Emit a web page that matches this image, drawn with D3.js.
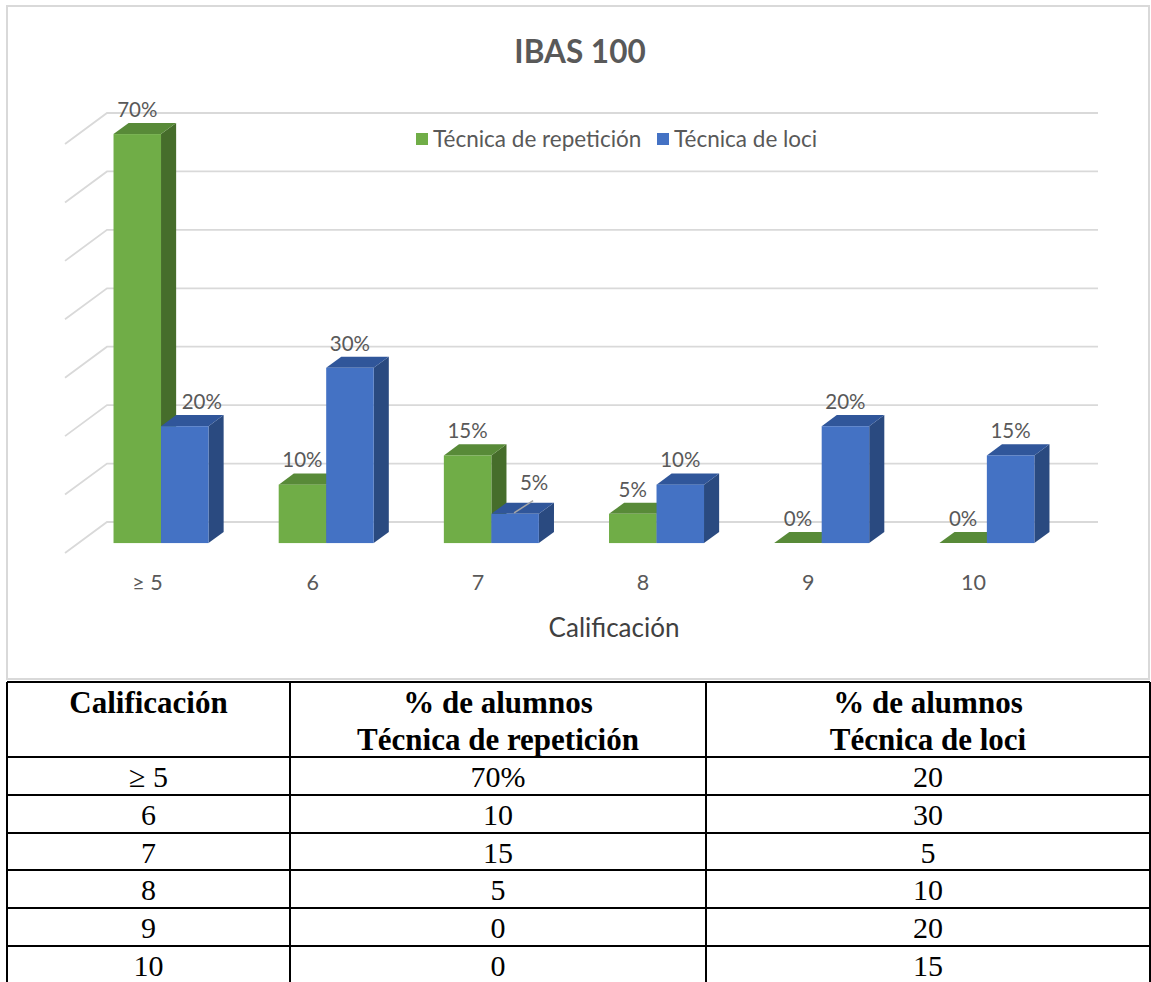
<!DOCTYPE html>
<html>
<head>
<meta charset="utf-8">
<script src="https://cdn.jsdelivr.net/npm/d3@7"></script>
<style>
  html, body { margin: 0; padding: 0; background: #fff; }
  svg { display: block; }
</style>
</head>
<body>
<svg id="chart" width="1151" height="982"></svg>
<script>
// ---------------- data ----------------
const categories = ["≥ 5", "6", "7", "8", "9", "10"];
const repeticion = [70, 10, 15, 5, 0, 0];
const loci = [20, 30, 5, 10, 20, 15];
const yTicks = [0, 10, 20, 30, 40, 50, 60, 70];
const seriesNames = ["Técnica de repetición", "Técnica de loci"];
const chartTitle = "IBAS 100";
const xTitle = "Calificación";

const tableHeader1 = ["Calificación", "% de alumnos", "% de alumnos"];
const tableHeader2 = ["", "Técnica de repetición", "Técnica de loci"];
const tableRep = ["70%", "10", "15", "5", "0", "0"];
const tableLoci = ["20", "30", "5", "10", "20", "15"];

// ---------------- setup ----------------
const svg = d3.select("#chart");
const sansFont = "Lato, 'Open Sans', sans-serif";
const serifFont = "'Liberation Serif', 'Times New Roman', serif";
const labelGray = "#595959";

// chart frame
svg.append("rect").attr("x", 7).attr("y", 6).attr("width", 1142).attr("height", 673)
  .attr("fill", "#fff").attr("stroke", "#d9d9d9").attr("stroke-width", 2);

// back wall scales
const xBack = d3.scaleBand().domain(categories).range([107, 1098]);
const yBack = d3.scaleLinear().domain([0, 70]).range([522, 113]);
const DX = -42, DY = 31;                 // full floor depth offset (back -> front)
const proj = (x, y, d) => [x + DX * d, y + DY * d];
const barFrontD = 0.68, barBackD = 0.32;
const barW = 47.5;

// gridlines
const grid = svg.append("g");
yTicks.forEach(t => {
  const yb = yBack(t);
  const [fx, fy] = proj(xBack.range()[0], yb, 1);
  grid.append("path")
    .attr("d", `M${fx},${fy}L${xBack.range()[0]},${yb}L${xBack.range()[1]},${yb}`)
    .attr("fill", "none").attr("stroke", "#d9d9d9").attr("stroke-width", 1.8);
});

// bars
const series = [
  { name: seriesNames[0], values: repeticion, front: "#70AD47", top: "#588A38", side: "#466D2B" },
  { name: seriesNames[1], values: loci, front: "#4472C4", top: "#30569A", side: "#2A4A80" }
];
const bars = svg.append("g");
const labelsG = svg.append("g");
const depthX = (barFrontD - barBackD) * -DX;   // ~15
const depthY = (barFrontD - barBackD) * DY;    // ~11

const labelNudge = { "1-0": [17, 0], "1-2": [19, -7] };

categories.forEach((c, i) => {
  const cx = xBack(c) + xBack.bandwidth() / 2;
  series.forEach((s, si) => {
    const v = s.values[i];
    const bx = cx + (si === 0 ? -barW : 0);
    const [x0, yt] = proj(bx, yBack(v), barFrontD);
    const [, yb] = proj(bx, yBack(0), barFrontD);
    const x1 = x0 + barW;
    const g = bars.append("g");
    g.append("path")
      .attr("d", `M${x1},${yt}L${x1 + depthX},${yt - depthY}L${x1 + depthX},${yb - depthY}L${x1},${yb}Z`)
      .attr("fill", s.side);
    g.append("path")
      .attr("d", `M${x0},${yt}L${x1},${yt}L${x1 + depthX},${yt - depthY}L${x0 + depthX},${yt - depthY}Z`)
      .attr("fill", s.top);
    if (v > 0) {
      g.append("rect").attr("x", x0).attr("y", yt).attr("width", barW).attr("height", yb - yt)
        .attr("fill", s.front);
    }
    const nudge = labelNudge[`${si}-${i}`] || [0, 0];
    const lx = x0 + barW / 2 + nudge[0];
    const ly = yt - depthY - 6 + nudge[1];
    labelsG.append("text")
      .attr("x", lx).attr("y", ly)
      .attr("text-anchor", "middle")
      .attr("font-family", sansFont).attr("font-size", 20.5)
      .attr("fill", labelGray)
      .text(v + "%");
    if (nudge[1] !== 0) {
      labelsG.append("line")
        .attr("x1", x0 + barW / 2 - 1).attr("y1", yt - 1)
        .attr("x2", lx - 1).attr("y2", ly + 11)
        .attr("stroke", "#a6a6a6").attr("stroke-width", 1.5);
    }
  });
  const [tx] = proj(cx, yBack(0), 1);
  svg.append("text")
    .attr("x", tx).attr("y", 590)
    .attr("text-anchor", "middle")
    .attr("font-family", sansFont).attr("font-size", 21.5)
    .attr("fill", labelGray)
    .text(c);
});

// title
svg.append("text").attr("x", 580).attr("y", 63).attr("text-anchor", "middle")
  .attr("font-family", sansFont).attr("font-size", 31.5).attr("font-weight", "bold")
  .attr("fill", labelGray).text(chartTitle);

// axis title
svg.append("text").attr("x", 614).attr("y", 637).attr("text-anchor", "middle")
  .attr("font-family", sansFont).attr("font-size", 26)
  .attr("fill", "#404040").text(xTitle);

// legend
const legendPos = [416, 657];
series.forEach((s, si) => {
  const lg = svg.append("g").attr("transform", `translate(${legendPos[si]},133)`);
  lg.append("rect").attr("width", 12).attr("height", 12).attr("fill", s.front);
  lg.append("text").attr("x", 17).attr("y", 13.5)
    .attr("font-family", sansFont).attr("font-size", 22.5)
    .attr("fill", labelGray).text(s.name);
});

// ---------------- table ----------------
const table = svg.append("g");
const colX = [7, 290, 706, 1150];
const rowY = [682, 757, 795, 833, 870, 908, 946, 983];
const colCenters = d3.range(3).map(k => (colX[k] + colX[k + 1]) / 2);

rowY.forEach(y => table.append("line").attr("x1", colX[0]).attr("x2", colX[3])
  .attr("y1", y).attr("y2", y).attr("stroke", "#000").attr("stroke-width", 2));
colX.forEach(x => table.append("line").attr("x1", x).attr("x2", x)
  .attr("y1", rowY[0]).attr("y2", rowY[rowY.length - 1]).attr("stroke", "#000").attr("stroke-width", 2));

tableHeader1.forEach((t, k) => table.append("text").attr("x", colCenters[k]).attr("y", 713)
  .attr("text-anchor", "middle").attr("font-family", serifFont).attr("font-size", 31)
  .attr("font-weight", "bold").text(t));
tableHeader2.forEach((t, k) => table.append("text").attr("x", colCenters[k]).attr("y", 750)
  .attr("text-anchor", "middle").attr("font-family", serifFont).attr("font-size", 31)
  .attr("font-weight", "bold").text(t));

categories.forEach((c, i) => {
  const y = rowY[i + 1] + 30;
  [c, tableRep[i], tableLoci[i]].forEach((t, k) => {
    table.append("text").attr("x", colCenters[k]).attr("y", y)
      .attr("text-anchor", "middle").attr("font-family", serifFont).attr("font-size", 30)
      .text(t);
  });
});
</script>
</body>
</html>
